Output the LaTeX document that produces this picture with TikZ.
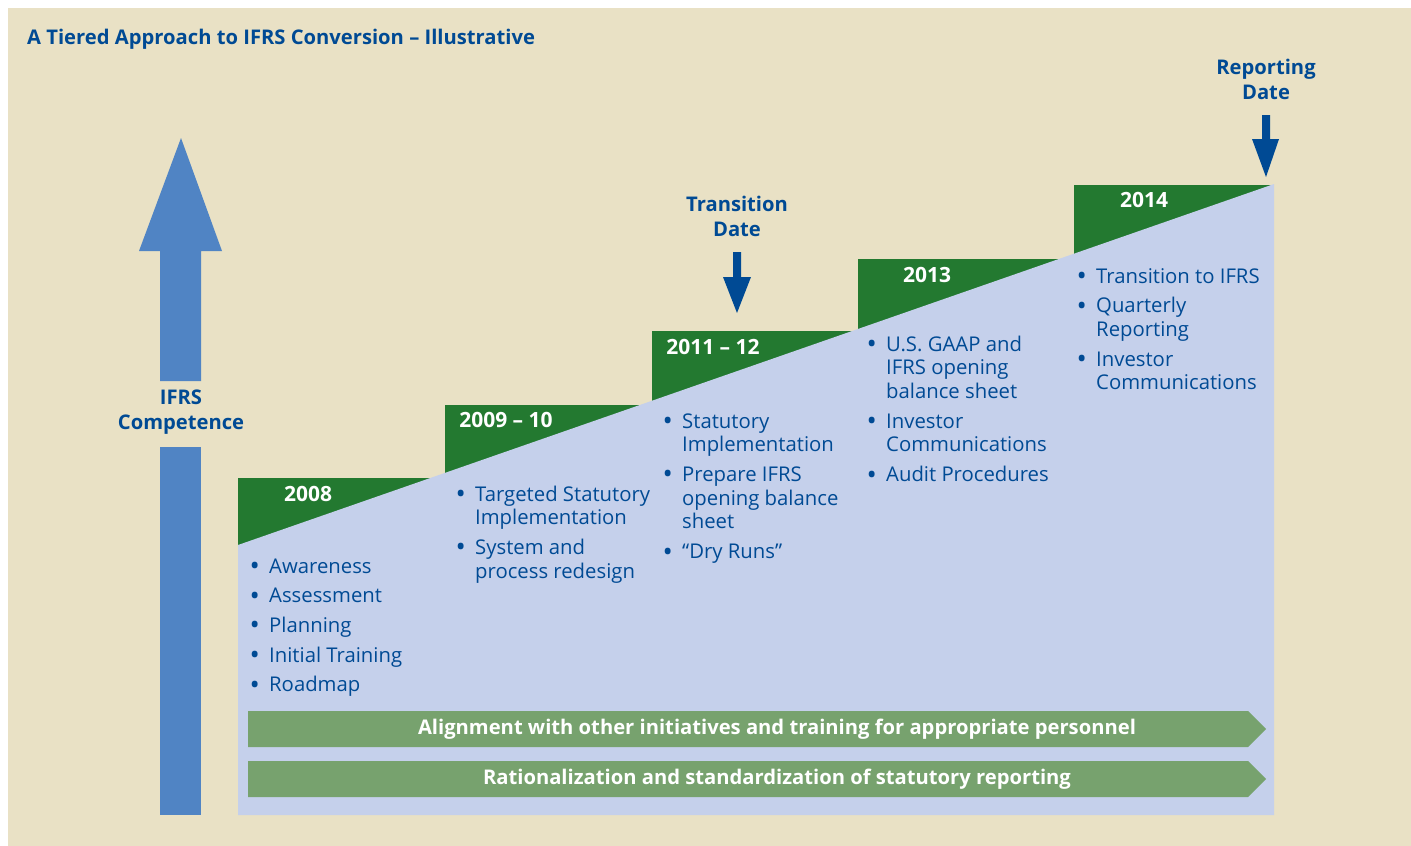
\documentclass[tikz,border=0pt]{standalone}
\usepackage{fontspec}
\setmainfont{Open Sans}
\usetikzlibrary{positioning}
\definecolor{bgbeige}{RGB}{233,225,197}
\definecolor{paleblue}{RGB}{197,208,235}
\definecolor{stepgreen}{RGB}{35,121,48}
\definecolor{bargreen}{RGB}{119,162,110}
\definecolor{arrowblue}{RGB}{80,132,196}
\definecolor{textblue}{RGB}{0,74,148}
\tikzset{
  year/.style={text=white, font=\bfseries\fontsize{21}{24}\selectfont, anchor=base, inner sep=0pt},
  lst/.style={text=textblue, font=\fontsize{20.3}{23.7}\selectfont, anchor=base west, inner sep=0pt},
  hdr/.style={text=textblue, font=\bfseries\fontsize{20.2}{25}\selectfont, anchor=base, inner sep=0pt},
  bartext/.style={text=white, font=\bfseries\fontsize{20.2}{24}\selectfont, inner sep=0pt}
}
\newcommand{\bl}{\makebox[7pt][c]{\raisebox{-2.5pt}{\scalebox{1.35}{\textbullet}}}}
\begin{document}
\begin{tikzpicture}[x=1pt,y=-1pt]
\useasboundingbox (0,0) rectangle (1411,846);
% Background
\fill[bgbeige] (8,8) rectangle (1411,846);
\node[hdr, anchor=base west] (title) at (27,44) {A Tiered Approach to IFRS Conversion -- Illustrative};
% Competence arrow
\fill[arrowblue] (160,815) -- (160,447) -- (201,447) -- (201,815) -- cycle;
\fill[arrowblue] (160,381) -- (160,251) -- (139,251) -- (181,138) -- (222,251) -- (201,251) -- (201,381) -- cycle;
\node[hdr] (compet) at (181,404) {\begin{tabular}[t]{@{}c@{}}IFRS\\Competence\end{tabular}};
% Steps
\foreach \x/\y/\nx in {238/478/445, 445/405/652, 652/331/858, 858/259/1074, 1074/185/1274}
  \fill[stepgreen] (\x,\y) rectangle (\nx,600);
\coordinate (low) at (238,545);
\coordinate (top) at (1274,184);
\fill[paleblue] (low) -- (top) -- (1274,815) -- (238,815) -- cycle;
\node[year] (yr08) at (308,501) {2008};
\node[year] (yr09) at (506,427) {2009 -- 10};
\node[year] (yr11) at (713,354) {2011 -- 12};
\node[year] (yr13) at (927,282) {2013};
\node[year] (yr14) at (1144,207) {2014};
% Date arrows
\fill[textblue] (733,252) -- (741,252) -- (741,277) -- (751,277) -- (737,313) -- (723,277) -- (733,277) -- cycle;
\node[hdr] (trans) at (737,211) {\begin{tabular}[t]{@{}c@{}}Transition\\Date\end{tabular}};
\fill[textblue] (1262,115) -- (1270,115) -- (1270,139) -- (1279,139) -- (1266,177) -- (1252,139) -- (1262,139) -- cycle;
\node[hdr] (report) at (1266,74) {\begin{tabular}[t]{@{}c@{}}Reporting\\Date\end{tabular}};
% Lists
\node[lst] (list08) at (251,573) {\begin{tabular}[t]{@{}l@{\hspace{11pt}}l@{}}
\bl & Awareness\\[6pt] \bl & Assessment\\[6pt] \bl & Planning\\[6pt] \bl & Initial Training\\[6pt] \bl & Roadmap
\end{tabular}};
\node[lst] (list09) at (457,501) {\begin{tabular}[t]{@{}l@{\hspace{11pt}}l@{}}
\bl & Targeted Statutory\\ & Implementation\\[6pt] \bl & System and\\ & process redesign
\end{tabular}};
\node[lst] (list11) at (664,428) {\begin{tabular}[t]{@{}l@{\hspace{11pt}}l@{}}
\bl & Statutory\\ & Implementation\\[6pt] \bl & Prepare IFRS\\ & opening balance\\ & sheet\\[6pt] \bl & ``Dry Runs''
\end{tabular}};
\node[lst] (list13) at (868,351) {\begin{tabular}[t]{@{}l@{\hspace{11pt}}l@{}}
\bl & U.S. GAAP and\\ & IFRS opening\\ & balance sheet\\[6pt] \bl & Investor\\ & Communications\\[6pt] \bl & Audit Procedures
\end{tabular}};
\node[lst] (list14) at (1078,283) {\begin{tabular}[t]{@{}l@{\hspace{11pt}}l@{}}
\bl & Transition to IFRS\\[6pt] \bl & Quarterly\\ & Reporting\\[6pt] \bl & Investor\\ & Communications
\end{tabular}};
% Bars
\fill[bargreen] (248,711) -- (1248,711) -- (1266,729) -- (1248,747) -- (248,747) -- cycle;
\node[bartext] (align) at (777,729) {Alignment with other initiatives and training for appropriate personnel};
\fill[bargreen] (248,761) -- (1248,761) -- (1266,779) -- (1248,797) -- (248,797) -- cycle;
\node[bartext] (ration) at (777,779) {Rationalization and standardization of statutory reporting};
\end{tikzpicture}
\end{document}
